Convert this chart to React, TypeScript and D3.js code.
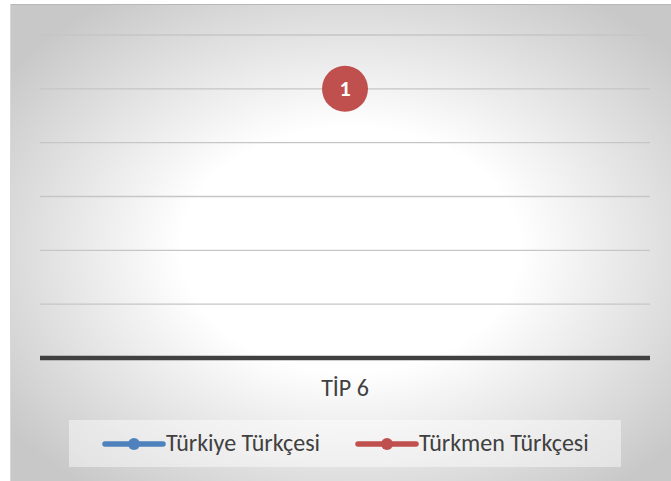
import React from "react";
import * as d3 from "d3";

const categories = ["TİP 6"];
const seriesNames = ["Türkiye Türkçesi", "Türkmen Türkçesi"];
const seriesColors = ["#4f81bd", "#c0504d"];
const turkiyeValues: (number | null)[] = [null];
const turkmenValues: (number | null)[] = [1];
const yTicks = [0, 0.2, 0.4, 0.6, 0.8, 1.0, 1.2];

const W = 671;
const H = 481;
const font = "Carlito, Calibri, 'Open Sans', 'Noto Sans', sans-serif";

export default function App() {
  const x = d3.scaleBand<string>().domain(categories).range([40, 650]);
  const y = d3.scaleLinear().domain([0, 1.2]).range([358, 35]);
  const allSeries = [turkiyeValues, turkmenValues];
  const line = d3
    .line<number | null>()
    .defined((d) => d != null)
    .x((_, i) => (x(categories[i]) ?? 0) + x.bandwidth() / 2)
    .y((d) => y(d as number));

  const legendItems = [
    { name: seriesNames[0], color: seriesColors[0], x0: 105 },
    { name: seriesNames[1], color: seriesColors[1], x0: 358 },
  ];

  return (
    <svg
      width={W}
      height={H}
      style={{ position: "absolute", left: 0, top: 0 }}
      fontFamily={font}
    >
      <defs>
        <radialGradient id="bg" cx="50%" cy="50%" r="62%" fx="50%" fy="50%">
          <stop offset="0%" stopColor="#ffffff" />
          <stop offset="40%" stopColor="#ffffff" />
          <stop offset="100%" stopColor="#c8c8c8" />
        </radialGradient>
      </defs>
      <rect x={0} y={0} width={W} height={H} fill="#ffffff" />
      <rect x={10} y={4} width={W + 10} height={H + 10} fill="url(#bg)" />
      <line x1={10} x2={W} y1={4.5} y2={4.5} stroke="#b8b8b8" strokeWidth={1} />
      <line x1={10.5} x2={10.5} y1={4} y2={H} stroke="#d8d8d8" strokeWidth={1} />

      {yTicks.slice(1).map((t) => (
        <line
          key={t}
          x1={40}
          x2={650}
          y1={y(t)}
          y2={y(t)}
          stroke="#c6c6c6"
          strokeWidth={1.3}
        />
      ))}
      <line x1={40} x2={650} y1={y(0)} y2={y(0)} stroke="#404040" strokeWidth={4.5} />

      {allSeries.map((vals, si) => (
        <g key={si}>
          <path d={line(vals) ?? ""} fill="none" stroke={seriesColors[si]} strokeWidth={5} />
          {vals.map((v, i) =>
            v == null ? null : (
              <g key={i}>
                <circle
                  cx={(x(categories[i]) ?? 0) + x.bandwidth() / 2}
                  cy={y(v)}
                  r={23}
                  fill={seriesColors[si]}
                />
                <text
                  x={(x(categories[i]) ?? 0) + x.bandwidth() / 2}
                  y={y(v) + 7.5}
                  textAnchor="middle"
                  fill="#ffffff"
                  fontWeight="bold"
                  fontSize={22}
                >
                  {v}
                </text>
              </g>
            )
          )}
        </g>
      ))}

      {categories.map((c) => (
        <text
          key={c}
          x={(x(c) ?? 0) + x.bandwidth() / 2}
          y={396}
          textAnchor="middle"
          fill="#404040"
          fontSize={24}
        >
          {c}
        </text>
      ))}

      <rect x={69} y={420} width={552} height={47} fill="#ffffff" opacity={0.45} />
      {legendItems.map((it) => (
        <g key={it.name}>
          <line
            x1={it.x0}
            x2={it.x0 + 58}
            y1={444}
            y2={444}
            stroke={it.color}
            strokeWidth={5.5}
            strokeLinecap="round"
          />
          <circle cx={it.x0 + 29} cy={444} r={6} fill={it.color} />
          <text x={it.x0 + 61} y={451} fill="#404040" fontSize={24}>
            {it.name}
          </text>
        </g>
      ))}
    </svg>
  );
}
